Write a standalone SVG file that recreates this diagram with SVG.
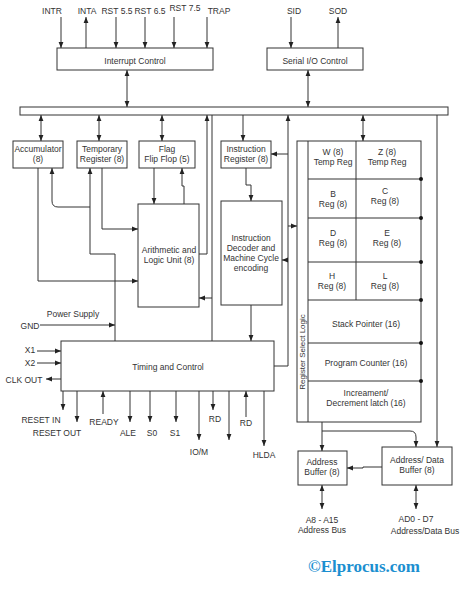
<svg xmlns="http://www.w3.org/2000/svg" width="474" height="606" viewBox="0 0 474 606">
<defs>
<marker id="ah" viewBox="0 0 10 10" refX="10" refY="5" markerWidth="6" markerHeight="6" orient="auto-start-reverse" markerUnits="userSpaceOnUse"><path d="M0,1 L10,5 L0,9 z" fill="#222"/></marker>
<style>
rect.b{fill:#fff;stroke:#333;stroke-width:1}
text{font-family:"Liberation Sans",Arial,sans-serif;font-size:8.5px;fill:#333;text-anchor:middle}
.c path,.c line,.c polyline{fill:none;stroke:#333;stroke-width:1}
.a{marker-end:url(#ah)}
.d{marker-start:url(#ah);marker-end:url(#ah)}
.dot{fill:#111}
</style>
</defs>
<rect width="474" height="606" fill="#fff"/>

<g id="bus"><rect class="b" x="20" y="107" width="428" height="8"/></g>

<g id="interrupt"><rect class="b" x="57" y="48" width="156" height="22"/><text x="135" y="64">Interrupt Control</text></g>
<g id="serial"><rect class="b" x="267" y="48" width="96" height="22"/><text x="315" y="64">Serial I/O Control</text></g>

<g id="accumulator"><rect class="b" x="13" y="141" width="50" height="27"/><text x="38" y="152">Accumulator</text><text x="38" y="162">(8)</text></g>
<g id="temp"><rect class="b" x="77" y="141" width="50" height="27"/><text x="102" y="152">Temporary</text><text x="102" y="162">Register (8)</text></g>
<g id="flag"><rect class="b" x="139" y="141" width="56" height="27"/><text x="167" y="152">Flag</text><text x="167" y="162">Flip Flop (5)</text></g>
<g id="ir"><rect class="b" x="221" y="141" width="50" height="27"/><text x="246" y="152">Instruction</text><text x="246" y="162">Register (8)</text></g>
<g id="alu"><rect class="b" x="138" y="204" width="61" height="103"/><text x="169" y="253">Arithmetic and</text><text x="169" y="263">Logic Unit (8)</text></g>
<g id="decoder"><rect class="b" x="221" y="201" width="61" height="104"/><text x="251" y="241">Instruction</text><text x="251" y="251">Decoder and</text><text x="251" y="261">Machine Cycle</text><text x="251" y="271">encoding</text></g>
<g id="timing"><rect class="b" x="61" y="341" width="213" height="50"/><text x="168" y="370">Timing and Control</text></g>

<g id="registers">
<rect class="b" x="297" y="141" width="124" height="281"/>
<g class="c">
<line x1="308" y1="141" x2="308" y2="422"/>
<line x1="356" y1="141" x2="356" y2="300"/>
<line x1="308" y1="179" x2="421" y2="179"/>
<line x1="308" y1="218" x2="421" y2="218"/>
<line x1="308" y1="262" x2="421" y2="262"/>
<line x1="308" y1="300" x2="421" y2="300"/>
<line x1="308" y1="343" x2="421" y2="343"/>
<line x1="308" y1="381" x2="421" y2="381"/>
</g>
<circle class="dot" cx="421" cy="179" r="2"/>
<circle class="dot" cx="421" cy="218" r="2"/>
<circle class="dot" cx="421" cy="262" r="2"/>
<circle class="dot" cx="421" cy="300" r="2"/>
<circle class="dot" cx="421" cy="343" r="2"/>
<circle class="dot" cx="421" cy="381" r="2"/>
<text x="333" y="155">W (8)</text><text x="333" y="165">Temp Reg</text>
<text x="387" y="155">Z (8)</text><text x="387" y="165">Temp Reg</text>
<text x="333" y="197">B</text><text x="333" y="207">Reg (8)</text>
<text x="385" y="194">C</text><text x="385" y="204">Reg (8)</text>
<text x="333" y="236">D</text><text x="333" y="246">Reg (8)</text>
<text x="387" y="236">E</text><text x="387" y="246">Reg (8)</text>
<text x="332" y="279">H</text><text x="332" y="289">Reg (8)</text>
<text x="385" y="279">L</text><text x="385" y="289">Reg (8)</text>
<text x="366" y="327">Stack Pointer (16)</text>
<text x="366" y="366">Program Counter (16)</text>
<text x="366" y="396">Increament/</text>
<text x="366" y="406">Decrement latch (16)</text>
<text x="305" y="352" transform="rotate(-90 305 352)" style="font-size:8px">Register Select Logic</text>
</g>

<g id="addrbuf"><rect class="b" x="298" y="451" width="49" height="34"/><text x="322" y="465">Address</text><text x="322" y="475">Buffer (8)</text></g>
<g id="adbuf"><rect class="b" x="382" y="447" width="70" height="38"/><text x="417" y="463">Address/ Data</text><text x="417" y="473">Buffer (8)</text></g>

<g id="labels">
<text x="52" y="14">INTR</text>
<text x="87" y="14">INTA</text>
<text x="117" y="14">RST 5.5</text>
<text x="150" y="14">RST 6.5</text>
<text x="185" y="11">RST 7.5</text>
<text x="219" y="14">TRAP</text>
<text x="294" y="14">SID</text>
<text x="338" y="14">SOD</text>
<text x="73" y="317">Power Supply</text>
<text x="30" y="329">GND</text>
<text x="30" y="353">X1</text>
<text x="30" y="366">X2</text>
<text x="24" y="383">CLK OUT</text>
<text x="41" y="423">RESET IN</text>
<text x="57" y="436">RESET OUT</text>
<text x="104" y="425">READY</text>
<text x="128" y="436">ALE</text>
<text x="152" y="436">S0</text>
<text x="175" y="436">S1</text>
<text x="199" y="455">IO/M</text>
<text x="215" y="422">RD</text>
<text x="246" y="426">RD</text>
<text x="264" y="458">HLDA</text>
<text x="322" y="523">A8 - A15</text>
<text x="322" y="533">Address Bus</text>
<text x="416" y="522">AD0 - D7</text>
<text x="425" y="534">Address/Data Bus</text>
<text x="364" y="572" style="font-family:'Liberation Serif','Times New Roman',serif;font-weight:bold;font-size:17px;fill:#1b8fd0">©Elprocus.com</text>
</g>

<g id="connectors" class="c">
<line class="a" x1="61" y1="17" x2="61" y2="48"/>
<line class="a" x1="86" y1="48" x2="86" y2="17"/>
<line class="a" x1="116" y1="17" x2="116" y2="48"/>
<line class="a" x1="145" y1="17" x2="145" y2="48"/>
<line class="a" x1="174" y1="17" x2="174" y2="48"/>
<line class="a" x1="207" y1="17" x2="207" y2="48"/>
<line class="a" x1="291" y1="17" x2="291" y2="48"/>
<line class="a" x1="338" y1="48" x2="338" y2="17"/>
<line class="d" x1="127" y1="70" x2="127" y2="107"/>
<line class="d" x1="308" y1="70" x2="308" y2="107"/>
<line class="d" x1="41" y1="115" x2="41" y2="141"/>
<line class="d" x1="99" y1="115" x2="99" y2="141"/>
<line class="d" x1="162" y1="115" x2="162" y2="141"/>
<line class="a" x1="243" y1="115" x2="243" y2="141"/>
<line class="d" x1="363" y1="115" x2="363" y2="141"/>
<path class="a" d="M199,254 H207 V115"/>
<path d="M212,115 V341"/>
<path class="a" d="M212,298 H199"/>
<path class="a" d="M274,366 H288 V115"/>
<path class="a" d="M288,154 H271"/>
<path class="a" d="M288,260 H282"/>
<path class="a" d="M288,226 H297"/>
<path class="a" d="M246,168 V185 H251 V201"/>
<path class="a" d="M251,305 V341"/>
<path class="a" d="M38,168 V281 H138"/>
<path class="a" d="M102,168 V229 H138"/>
<path class="a" d="M115,341 V254 H90 V168"/>
<path class="a" d="M90,207 H58 Q52,207 52,201 V168"/>
<path class="a" d="M154,168 V204"/>
<path class="a" d="M184,204 V186 H182 V168"/>
<path class="a" d="M40,325 H115"/>
<path class="a" d="M37,351 H61"/>
<path class="a" d="M37,363 H61"/>
<path class="a" d="M61,379 H46"/>
<path class="a" d="M63,391 V410"/>
<path class="a" d="M77,391 V422"/>
<path class="a" d="M103,414 V391"/>
<path class="a" d="M130,391 V422"/>
<path class="a" d="M150,391 V422"/>
<path class="a" d="M176,391 V422"/>
<path class="a" d="M199,391 V440"/>
<path class="a" d="M213,391 V410"/>
<path class="a" d="M229,391 V440"/>
<path class="a" d="M246,417 V391"/>
<path class="a" d="M264,391 V446"/>
<path class="a" d="M437,115 V447"/>
<path class="a" d="M322,422 V451"/>
<path class="a" d="M322,431 H410 Q416,431 416,437 V447"/>
<path class="a" d="M382,467 H363 V468 H347"/>
<line class="d" x1="322" y1="485" x2="322" y2="509"/>
<line class="d" x1="416" y1="485" x2="416" y2="509"/>
</g>
</svg>
